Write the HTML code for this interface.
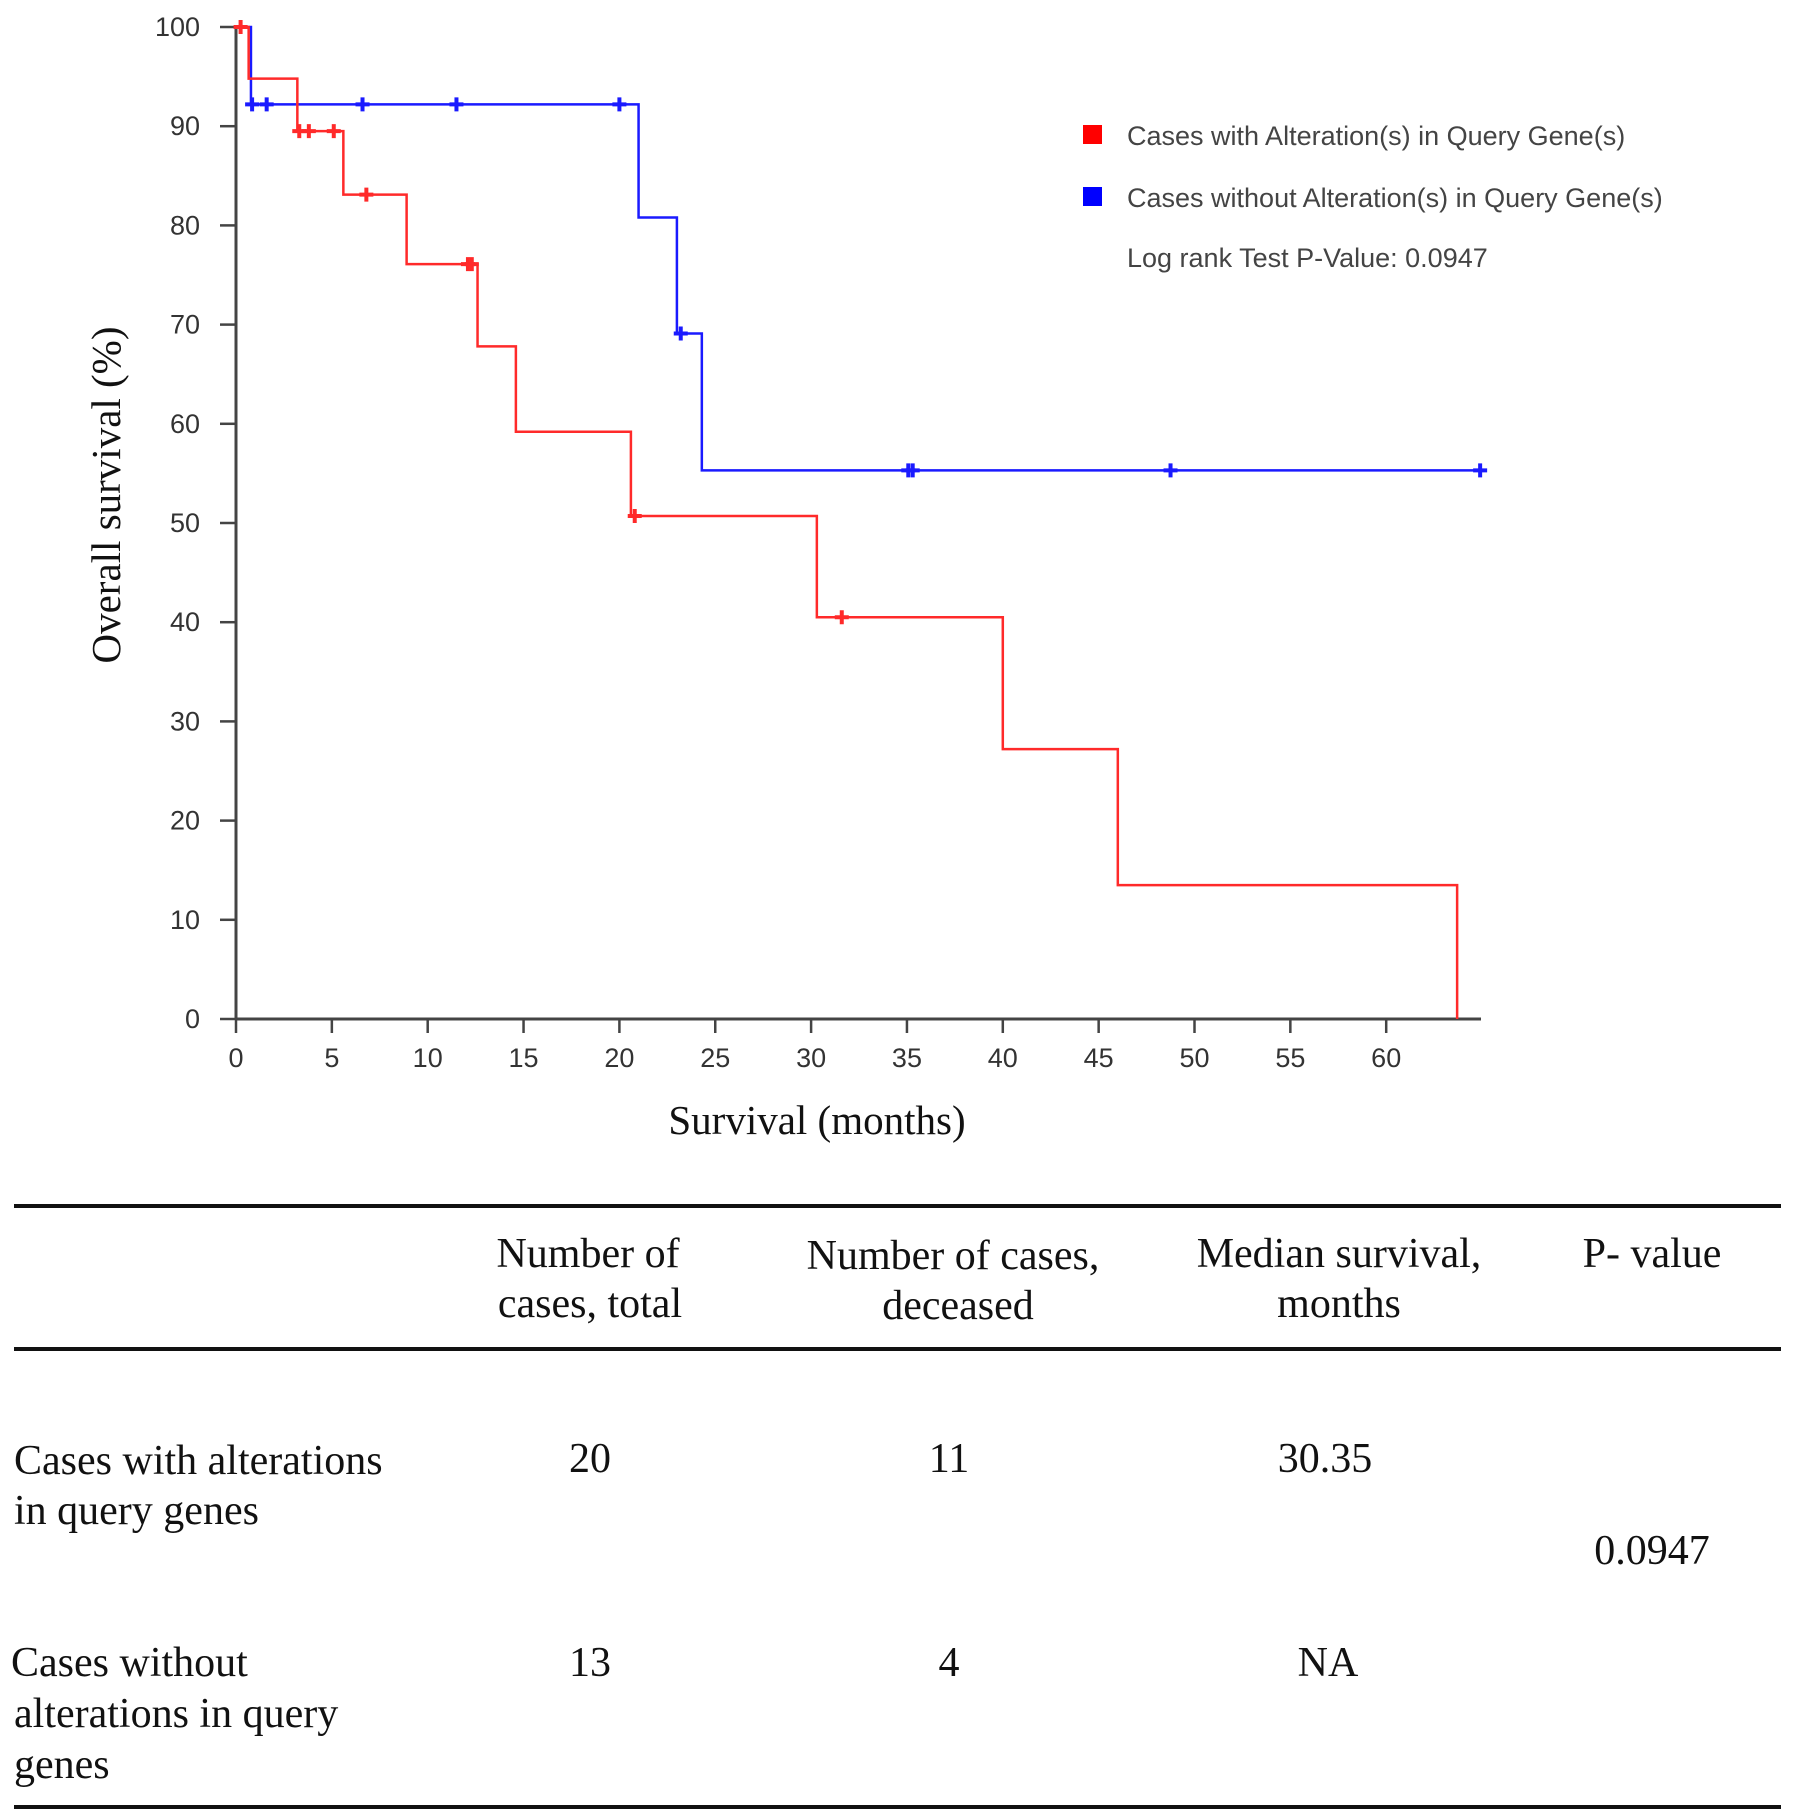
<!DOCTYPE html>
<html><head><meta charset="utf-8">
<style>
body{margin:0;background:#fff;width:1795px;height:1820px;overflow:hidden;position:relative}
svg{position:absolute;left:0;top:0}
.sans{font-family:"Liberation Sans",Arial,sans-serif}
.serif{font-family:"Liberation Serif","Times New Roman",serif}
</style></head>
<body>
<svg id="chart" width="1795" height="1820"></svg>
<script>
const redTimes=[0,0.66,3.2,5.6,8.9,12.6,14.6,20.6,30.3,40.0,46.0,63.7];
const redSurv=[100,94.8,89.5,83.1,76.1,67.8,59.2,50.7,40.5,27.2,13.5,0];
const redCensor=[0.24,3.3,3.8,5.1,6.8,12.1,12.3,20.8,31.6];
const blueTimes=[0,0.78,21.0,23.0,24.3];
const blueSurv=[100,92.2,80.8,69.1,55.3];
const blueCensor=[0.84,1.6,6.6,11.5,20.0,23.2,35.07,35.3,48.75,64.9];
const blueEnd=64.9;
const xTicks=[0,5,10,15,20,25,30,35,40,45,50,55,60];
const yTicks=[0,10,20,30,40,50,60,70,80,90,100];

const NS="http://www.w3.org/2000/svg";
const svg=document.getElementById('chart');
const X0=236,XPER=19.17,Y0=1019,YPER=9.92;
const sx=m=>X0+m*XPER, sy=v=>Y0-v*YPER;
function mk(tag,attrs,parent){const e=document.createElementNS(NS,tag);for(const k in attrs)e.setAttribute(k,attrs[k]);(parent||svg).appendChild(e);return e;}

const ax=mk('g',{});


mk('line',{x1:X0,y1:sy(100)-2,x2:X0,y2:Y0+1,stroke:'#444','stroke-width':3},ax);
mk('line',{x1:X0-1,y1:Y0,x2:1481,y2:Y0,stroke:'#444','stroke-width':3},ax);
yTicks.forEach(v=>{
  mk('line',{x1:X0-16,y1:sy(v),x2:X0,y2:sy(v),stroke:'#444','stroke-width':2.5},ax);
  const t=mk('text',{x:200,y:sy(v)+9,'text-anchor':'end','font-size':27,fill:'#333',class:'sans'},ax);
  t.textContent=v;
  
  
});
xTicks.forEach(v=>{
  mk('line',{x1:sx(v),y1:Y0,x2:sx(v),y2:Y0+14,stroke:'#444','stroke-width':2.5},ax);
  const t=mk('text',{x:sx(v),y:Y0+48,'text-anchor':'middle','font-size':27,fill:'#333',class:'sans'},ax);
  t.textContent=v;
  
  
});

function stepPath(times,surv,end){
  let d='M'+sx(times[0])+','+sy(surv[0]);
  for(let i=1;i<times.length;i++){d+=' H'+sx(times[i])+' V'+sy(surv[i]);}
  if(end!==undefined)d+=' H'+sx(end);
  return d;
}
function survAt(times,surv,t){let s=surv[0];for(let i=0;i<times.length;i++)if(times[i]<=t)s=surv[i];return s;}
function series(times,surv,cens,end,color,name){
  const g=mk('g',{});
  
  
  const p=mk('path',{d:stepPath(times,surv,end),fill:'none',stroke:color,'stroke-width':2.5},g);
  
  
  cens.forEach(c=>{
    const x=sx(c),y=sy(survAt(times,surv,c));
    const m=mk('path',{d:`M${x-7},${y} H${x+7} M${x},${y-7} V${y+7}`,stroke:color,'stroke-width':4},g);
    
    
  });
}
series(blueTimes,blueSurv,blueCensor,blueEnd,'#1a1aff','without-alteration-series');
series(redTimes,redSurv,redCensor,undefined,'#ff2a2a','with-alteration-series');

const lg=mk('g',{});


mk('rect',{x:1083,y:125,width:19,height:19,fill:'#ff0000'},lg);
mk('rect',{x:1083,y:187,width:19,height:19,fill:'#0000ff'},lg);
[['Cases with Alteration(s) in Query Gene(s)',145],['Cases without Alteration(s) in Query Gene(s)',207],['Log rank Test P-Value: 0.0947',267]].forEach(([s,y])=>{
  const t=mk('text',{x:1127,y:y,'font-size':27,fill:'#444',class:'sans'},lg);
  t.textContent=s;
  
  
});
</script>
<svg width="1795" height="1820" style="pointer-events:none">
<text class="serif" font-size="41" fill="#111" text-anchor="middle" transform="translate(120,495) rotate(-90)">Overall survival (%)</text>
<text class="serif" font-size="41" fill="#111" text-anchor="middle" x="817" y="1134">Survival (months)</text>
<line x1="14" y1="1206" x2="1781" y2="1206" stroke="#111" stroke-width="4"/>
<line x1="14" y1="1349" x2="1781" y2="1349" stroke="#111" stroke-width="4"/>
<line x1="14" y1="1807" x2="1781" y2="1807" stroke="#111" stroke-width="4"/>
<g class="serif" font-size="42" fill="#111" text-anchor="middle">
<text x="588" y="1267">Number of</text>
<text x="590" y="1317">cases, total</text>
<text x="953" y="1269">Number of  cases,</text>
<text x="958" y="1319">deceased</text>
<text x="1339" y="1267">Median  survival,</text>
<text x="1339" y="1317">months</text>
<text x="1652" y="1267">P- value</text>
<text x="590" y="1472">20</text>
<text x="949" y="1472">11</text>
<text x="1325" y="1472">30.35</text>
<text x="1652" y="1564">0.0947</text>
<text x="590" y="1676">13</text>
<text x="949" y="1676">4</text>
<text x="1328" y="1676">NA</text>
</g>
<g class="serif" font-size="42" fill="#111">
<text x="14" y="1474">Cases with alterations</text>
<text x="14" y="1524">in query genes</text>
<text x="11" y="1676">Cases without</text>
<text x="14" y="1727">alterations in query</text>
<text x="14" y="1778">genes</text>
</g>
</svg>
</body></html>
